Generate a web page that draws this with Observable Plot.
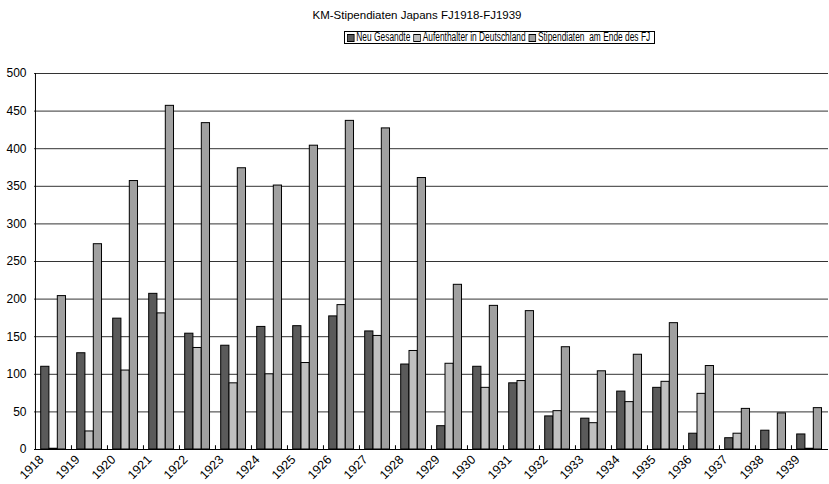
<!DOCTYPE html>
<html>
<head>
<meta charset="utf-8">
<script src="https://cdn.jsdelivr.net/npm/d3@7"></script>
<script src="https://cdn.jsdelivr.net/npm/@observablehq/plot@0.6"></script>
<style>
  html, body { margin: 0; padding: 0; background: #fff; }
  #wrap { position: relative; width: 829px; height: 484px; font-family: "Liberation Sans", Arial, sans-serif; color: #000; }
  #title { position: absolute; top: 9px; left: 0; width: 834px; text-align: center; font-size: 11.5px; }
  #legend { position: absolute; left: 344px; top: 31px; width: 309px; height: 11px; border: 1px solid #000; overflow: hidden; }
  #legin { position: absolute; left: 0; top: 0; font-size: 12.5px; line-height: 11px; white-space: nowrap;
           display: flex; align-items: center; height: 11px; transform-origin: 0 50%; }
  .sw { display: inline-block; flex: 0 0 auto; height: 6px; border: 1px solid #000; margin: 0 2px 0 3px; }
  #chart { position: absolute; left: 0; top: 55px; }
</style>
</head>
<body>
<div id="wrap">
  <div id="title">KM-Stipendiaten Japans FJ1918-FJ1939</div>
  <div id="legend"><div id="legin"></div></div>
  <div id="chart"></div>
</div>
<script>
const years = ["1918","1919","1920","1921","1922","1923","1924","1925","1926","1927","1928","1929","1930","1931","1932","1933","1934","1935","1936","1937","1938","1939"];
const seriesNames = ["Neu Gesandte", "Aufenthalter in Deutschland", "Stipendiaten  am Ende des FJ"];
const neuGesandte = [110,128,174,207,154,138,163,164,177,157,113,31,110,88,44,41,77,82,21,15,25,20];
const aufenthalter = [1,24,105,181,135,88,100,115,192,151,131,114,82,91,51,35,63,90,74,21,0,1];
const stipendiaten = [204,273,357,457,434,374,351,404,437,427,361,219,191,184,136,104,126,168,111,54,48,55];
const colors = ["#5a5a5a", "#c0c0c0", "#a0a0a0"];
const yTicks = [0,50,100,150,200,250,300,350,400,450,500];

const W = 829, H = 429, mL = 34, mR = 1, mT = 18, mB = 35;
const bw = (W - mL - mR) / years.length;
const start = bw * 0.158, barW = bw * 0.23;

const seriesValues = [neuGesandte, aufenthalter, stipendiaten];
const data = seriesValues.map((vals, s) => years.map((y, i) => ({year: y, value: vals[i], s})));

// legend (text squeezed horizontally to match the condensed original font)
const leg = document.getElementById("legin");
const swatches = [];
seriesNames.forEach((n, i) => {
  const sw = document.createElement("span");
  sw.className = "sw"; sw.style.background = colors[i];
  leg.appendChild(sw); swatches.push(sw);
  const t = document.createElement("span");
  t.textContent = n; t.style.whiteSpace = "pre";
  leg.appendChild(t);
});
const target = 305;
let k = 1;
for (let it = 0; it < 4; it++) {
  swatches.forEach((sw, i) => {
    sw.style.width = (6 / k) + "px";
    sw.style.marginLeft = ((i === 0 ? 2 : 3) / k) + "px";
    sw.style.marginRight = (2 / k) + "px";
    sw.style.borderLeftWidth = sw.style.borderRightWidth = (1 / k) + "px";
  });
  k = target / leg.scrollWidth;
}
leg.style.transform = `scaleX(${k})`;

const barMarks = data.map((d, s) => Plot.barY(d.filter(r => r.value > 0), {
  x: "year", y: "value", fill: colors[s], stroke: "#000", strokeWidth: 1,
  insetLeft: start + s * barW, insetRight: bw - start - (s + 1) * barW
}));

const chart = Plot.plot({
  width: W, height: H, marginLeft: mL, marginRight: mR, marginTop: mT, marginBottom: mB,
  style: {fontFamily: "Liberation Sans, Arial, sans-serif", background: "#fff"},
  x: {domain: years, padding: 0, axis: null, label: null},
  y: {domain: [0, 500], axis: null, label: null},
  marks: [
    Plot.ruleY(yTicks.filter(v => v > 0), {stroke: "#333", strokeWidth: 1}),
    ...barMarks,
    Plot.ruleX(years.slice(1), {x: d => d, y1: 0, y2: 5, dx: -bw / 2, stroke: "#000"}),
    Plot.ruleY([0], {stroke: "#000", strokeWidth: 1}),
    Plot.ruleX([years[0]], {x: d => d, y1: 0, y2: 500, dx: -bw / 2, stroke: "#000"}),
    Plot.axisY({ticks: yTicks, tickSize: 0, tickPadding: 8, fontSize: 12, label: null, tickFormat: d => String(d)}),
    Plot.axisX({tickSize: 0, tickRotate: -45, tickPadding: 5, fontSize: 12.5, dx: -12, dy: 3, label: null})
  ]
});
document.getElementById("chart").appendChild(chart);
</script>
</body>
</html>
